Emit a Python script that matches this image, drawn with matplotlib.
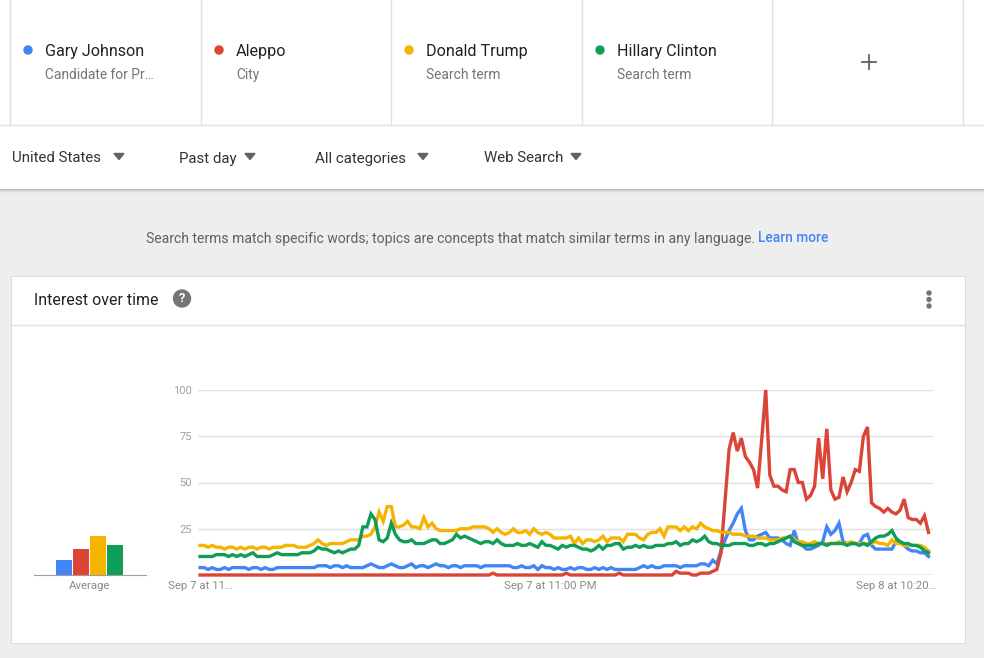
import matplotlib
matplotlib.use('Agg')
import matplotlib.pyplot as plt
from matplotlib.patches import Rectangle, Circle, Polygon

plt.rcParams['font.family'] = ['Roboto', 'DejaVu Sans']

# ---------------- data ----------------
terms = ['Gary Johnson', 'Aleppo', 'Donald Trump', 'Hillary Clinton']
subtitles = ['Candidate for Pr…', 'City', 'Search term', 'Search term']
colors = ['#4285f4', '#db4437', '#f4b400', '#0f9d58']
filters = ['United States', 'Past day', 'All categories', 'Web Search']

johnson = [4, 4, 3, 4, 3, 3, 4, 3, 4, 4, 4, 4, 3, 4, 4, 3, 4, 3, 3, 4,
           4, 4, 4, 4, 4, 4, 4, 4, 4, 5, 5, 5, 4, 5, 5, 4, 5, 4, 4, 4,
           4, 5, 6, 5, 4, 4, 5, 6, 5, 4, 4, 5, 6, 4, 5, 5, 4, 5, 6, 5,
           5, 4, 5, 5, 4, 5, 5, 5, 5, 4, 5, 5, 5, 5, 5, 5, 5, 4, 4, 5,
           4, 4, 5, 3, 5, 4, 4, 3, 4, 3, 3, 4, 3, 4, 4, 3, 3, 4, 3, 4,
           3, 4, 3, 3, 3, 3, 3, 3, 4, 5, 4, 5, 4, 4, 5, 5, 5, 5, 4, 5,
           5, 5, 5, 6, 6, 5, 8, 6, 13, 19, 24, 28, 33, 36, 24, 19, 19, 21, 22, 23,
           20, 20, 20, 19, 17, 16, 24, 17, 16, 14, 14, 15, 16, 18, 26, 22, 24, 28, 18, 17,
           17, 17, 17, 21, 22, 16, 14, 14, 14, 14, 14, 18, 18, 16, 14, 13, 13, 12, 12, 10]

aleppo = [0] * 20 + [0] * 20 + [0] * 20 + \
         [0, 0, 0, 0, 0, 0, 0, 0, 0, 0, 0, 0, 1, 0, 0, 0, 0, 0, 0, 0,
          0, 0, 0, 0, 0, 0, 0, 0, 0, 0, 1, 0, 0, 0, 0, 0, 0, 0, 0, 0,
          0, 0, 0, 1, 0, 0, 0, 0, 0, 0, 0, 0, 0, 0, 0, 0, 0, 2, 1, 1,
          1, 0, 0, 1, 1, 1, 2, 3, 12, 40, 68, 77, 67, 74, 64, 61, 57, 47, 73, 100,
          54, 48, 48, 46, 45, 57, 57, 50, 50, 41, 43, 48, 74, 52, 79, 46, 41, 42, 53, 45,
          50, 57, 56, 75, 80, 39, 37, 36, 34, 36, 34, 33, 35, 41, 31, 30, 30, 28, 32, 23]

trump = [16, 16, 15, 16, 15, 15, 14, 15, 15, 14, 15, 14, 15, 15, 14, 15, 15, 14, 15, 15,
         15, 16, 16, 16, 15, 15, 15, 16, 17, 19, 17, 16, 17, 17, 17, 17, 18, 19, 19, 19,
         21, 21, 22, 26, 34, 29, 37, 37, 26, 26, 27, 29, 26, 26, 25, 31, 26, 28, 25, 24,
         24, 24, 24, 24, 25, 25, 25, 26, 26, 26, 26, 25, 23, 25, 23, 22, 23, 25, 23, 23,
         24, 22, 25, 23, 22, 23, 22, 20, 20, 20, 20, 21, 17, 20, 17, 19, 19, 18, 19, 21,
         18, 20, 20, 20, 18, 22, 22, 22, 20, 19, 22, 23, 23, 25, 21, 26, 26, 26, 24, 26,
         24, 26, 25, 28, 26, 25, 24, 24, 23, 23, 23, 22, 22, 22, 21, 21, 21, 20, 20, 20,
         19, 19, 19, 20, 20, 21, 19, 18, 18, 17, 17, 18, 17, 17, 17, 17, 17, 18, 17, 17,
         18, 17, 17, 17, 17, 17, 18, 17, 17, 16, 19, 17, 17, 16, 16, 16, 16, 16, 15, 13]

clinton = [10, 10, 10, 10, 11, 11, 11, 10, 11, 10, 11, 10, 11, 12, 10, 10, 10, 10, 11, 12,
           11, 11, 11, 11, 11, 12, 12, 12, 13, 15, 14, 14, 13, 12, 13, 12, 13, 14, 14, 16,
           26, 26, 33, 30, 19, 18, 20, 28, 22, 19, 18, 18, 19, 17, 17, 17, 18, 19, 19, 17,
           17, 18, 19, 22, 20, 21, 20, 19, 18, 17, 18, 18, 17, 19, 17, 16, 16, 16, 17, 16,
           16, 17, 16, 15, 18, 16, 16, 15, 14, 16, 15, 16, 16, 15, 14, 14, 13, 14, 16, 14,
           16, 16, 17, 17, 14, 15, 15, 16, 15, 16, 15, 15, 16, 16, 16, 17, 17, 18, 16, 17,
           17, 19, 18, 19, 21, 18, 17, 17, 16, 16, 16, 17, 17, 17, 17, 16, 16, 17, 17, 16,
           17, 17, 18, 19, 20, 21, 18, 17, 16, 16, 16, 16, 17, 17, 16, 17, 17, 17, 17, 16,
           17, 17, 16, 17, 16, 18, 20, 21, 21, 22, 24, 20, 18, 17, 17, 16, 16, 15, 13, 12]

averages = [8, 14, 21, 16]
y_ticks = [25, 50, 75, 100]
x_tick_pos = [0, 86, 171]
x_tick_labels = ['Sep 7 at 11…', 'Sep 7 at 11:00 PM', 'Sep 8 at 10:20…']

series = [johnson, aleppo, trump, clinton]

# ---------------- figure / page chrome ----------------
W, H = 984, 658
fig = plt.figure(figsize=(W / 100, H / 100), dpi=100)
bg = fig.add_axes([0, 0, 1, 1])
bg.set_xlim(0, W)
bg.set_ylim(H, 0)
bg.axis('off')

bg.add_patch(Rectangle((0, 0), W, H, color='#eeeeee', zorder=0))
bg.add_patch(Rectangle((0, 0), W, 189, color='white', zorder=1))
for k, c in enumerate(['#bdbdbd', '#d0d0d0', '#e0e0e0', '#e8e8e8']):
    bg.add_patch(Rectangle((0, 189 + k), W, 1, color=c, lw=0, zorder=1))

# term cards
for x in [10, 201, 391, 582, 772, 963]:
    bg.plot([x, x], [0, 125], color='#e0e0e0', lw=1, zorder=2)
bg.plot([0, W], [125, 125], color='#e0e0e0', lw=1, zorder=2)

card_x = [28, 219, 409, 600]
for k in range(4):
    bg.add_patch(Circle((card_x[k], 50), 4, color=colors[k], zorder=3))
    bg.text(card_x[k] + 17, 51.5, terms[k], fontsize=11.6, color='#212121',
            va='center', ha='left', zorder=3)
    bg.text(card_x[k] + 17, 75, subtitles[k], fontsize=9.9, color='#757575',
            va='center', ha='left', zorder=3)
# "+" add-term button
bg.plot([862, 876], [62, 62], color='#616161', lw=1.3, zorder=3)
bg.plot([869, 869], [55, 69], color='#616161', lw=1.3, zorder=3)

# filter dropdowns
filter_x = [12, 179, 315, 484]
tri_x = [119, 250, 423, 576]
for k in range(4):
    bg.text(filter_x[k], 158.5, filters[k], fontsize=10.8, color='#333333',
            va='center', ha='left', zorder=3)
    tx = tri_x[k]
    bg.add_patch(Polygon([[tx - 5, 153.5], [tx + 5, 153.5], [tx, 159.5]],
                         closed=True, color='#616161', zorder=3))

# info text
bg.text(146, 238.5, 'Search terms match specific words; topics are concepts that '
        'match similar terms in any language.', fontsize=10.1, color='#616161',
        va='center', ha='left', zorder=3)
bg.text(758, 238.5, 'Learn more', fontsize=9.95, color='#4285f4', fontweight='medium',
        va='center', ha='left', zorder=3)

# chart card
bg.add_patch(Rectangle((11, 276), 954, 367, facecolor='white',
                       edgecolor='#dcdcdc', lw=0.8, zorder=2))
bg.plot([11, 965], [325, 325], color='#e0e0e0', lw=1, zorder=3)
bg.text(34, 300.5, 'Interest over time', fontsize=11.4, color='#212121',
        va='center', ha='left', zorder=3)
bg.add_patch(Circle((182, 298.5), 8.5, color='#757575', zorder=3))
bg.text(182, 299, '?', fontsize=9, color='white', fontweight='bold',
        va='center', ha='center', zorder=4)
for yy in [293, 299.5, 306]:
    bg.add_patch(Circle((929, yy), 2, color='#757575', zorder=3))

# ---------------- main line chart ----------------
def fx(px):
    return px / W

def fy(py):
    return (H - py) / H

ax = fig.add_axes([fx(198), fy(575), fx(933) - fx(198), fy(390) - fy(575)])
ax.set_facecolor('none')
idx = list(range(len(trump)))
for s, c in zip(series, colors):
    ax.plot(idx, s, color=c, lw=2.4, clip_on=False, zorder=3,
            solid_joinstyle='miter')
ax.set_xlim(-0.5, 180.1)
ax.set_ylim(0, 100)
for sp in ax.spines.values():
    sp.set_visible(False)
for t in y_ticks:
    ax.axhline(t, color='#e0e0e0', lw=1, zorder=1)
ax.axhline(0, color='#9e9e9e', lw=1, zorder=2)
ax.set_yticks(y_ticks)
ax.set_yticklabels([str(t) for t in y_ticks])
ax.set_xticks(x_tick_pos)
ax.set_xticklabels(x_tick_labels)
ax.tick_params(axis='y', length=0, pad=4.5, labelsize=8, labelcolor='#9e9e9e')
ax.tick_params(axis='x', length=0, pad=4, labelsize=8.2, labelcolor='#8a8a8a')

# ---------------- average bars ----------------
axa = fig.add_axes([fx(34), fy(575), fx(146) - fx(34), fy(390) - fy(575)])
axa.set_facecolor('none')
axa.bar(range(4), averages, width=0.94, color=colors, zorder=2)
axa.set_xlim(-1.765, 4.82)
axa.set_ylim(0, 100)
for name, sp in axa.spines.items():
    sp.set_visible(name == 'bottom')
axa.spines['bottom'].set_color('#9e9e9e')
axa.set_xticks([])
axa.set_yticks([])
bg.text(90, 586, 'Average', fontsize=8.2, color='#8a8a8a', va='center',
        ha='center', zorder=3)

fig.savefig('out.png', dpi=100)
